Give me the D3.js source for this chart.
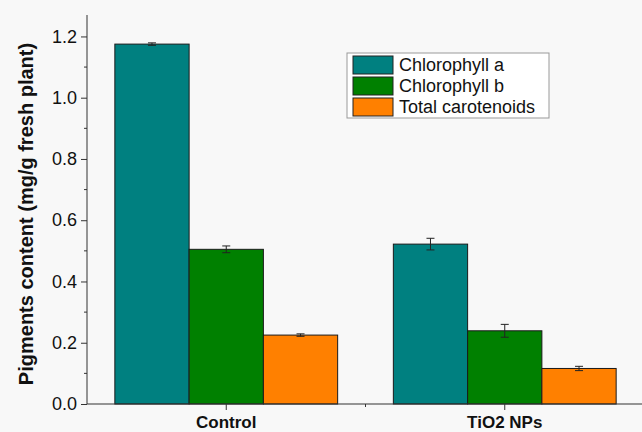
<!DOCTYPE html>
<html><head><meta charset="utf-8">
<script src="https://cdn.jsdelivr.net/npm/d3@7"></script>
<style>
html,body{margin:0;padding:0;background:#f8f8f8;}
svg{display:block;font-family:Arial,"Liberation Sans",sans-serif;}
</style></head>
<body>
<svg id="c" width="642" height="432"></svg>
<script>
const categories = ["Control", "TiO2 NPs"];
const seriesNames = ["Chlorophyll a", "Chlorophyll b", "Total carotenoids"];
const chlA = [1.175, 0.522];
const chlAErr = [0.004, 0.019];
const chlB = [0.505, 0.239];
const chlBErr = [0.011, 0.021];
const carot = [0.225, 0.116];
const carotErr = [0.004, 0.007];
const yTicks = [0, 0.2, 0.4, 0.6, 0.8, 1.0, 1.2];
const colors = ["#008080", "#008000", "#ff8000"];

const values = [chlA, chlB, carot];
const errs = [chlAErr, chlBErr, carotErr];

const svg = d3.select("#c");
const mLeft = 87, mBottom = 404, mTop = 15, mRight = 644;

const x = d3.scaleBand().domain(categories).range([mLeft, mRight]).padding(0);
const inner = d3.scaleBand().domain(seriesNames).range([0, x.bandwidth() * 0.8]).padding(0);
const y = d3.scaleLinear().domain([0, 1.27]).range([mBottom, mTop]);

// bars
const data = [];
categories.forEach((c, i) => seriesNames.forEach((s, j) => data.push({c, s, j, v: values[j][i], e: errs[j][i]})));
const off = x.bandwidth() * 0.1;
svg.append("g").selectAll("rect").data(data).join("rect")
  .attr("x", d => x(d.c) + off + inner(d.s))
  .attr("y", d => y(d.v))
  .attr("width", inner.bandwidth())
  .attr("height", d => y(0) - y(d.v))
  .attr("fill", d => colors[d.j])
  .attr("stroke", "#1a1a1a").attr("stroke-width", 1);

// error bars
const eg = svg.append("g").attr("stroke", "#222").attr("stroke-width", 1);
data.forEach(d => {
  const cx = x(d.c) + off + inner(d.s) + inner.bandwidth() / 2;
  eg.append("line").attr("x1", cx).attr("x2", cx).attr("y1", y(d.v + d.e)).attr("y2", y(d.v - d.e));
  [d.v + d.e, d.v - d.e].forEach(v => eg.append("line").attr("x1", cx - 4).attr("x2", cx + 4).attr("y1", y(v)).attr("y2", y(v)));
});

// y axis
const yAxis = d3.axisLeft(y).tickValues(yTicks).tickFormat(d3.format(".1f")).tickSize(6).tickPadding(4);
const gy = svg.append("g").attr("transform", `translate(${mLeft},0)`).call(yAxis);
gy.select(".domain").attr("d", `M0,${mBottom}V${mTop}`).attr("stroke", "#333");
gy.selectAll(".tick line").attr("stroke", "#333");
gy.selectAll("text").attr("font-size", 18).attr("fill", "#111").attr("font-family", "Arial, 'Liberation Sans', sans-serif");
// minor y ticks
const minor = d3.range(0.1, 1.25, 0.2);
svg.append("g").selectAll("line").data(minor).join("line")
  .attr("x1", mLeft - 3).attr("x2", mLeft).attr("y1", d => y(d)).attr("y2", d => y(d)).attr("stroke", "#333");

// x axis
const xAxis = d3.axisBottom(x).tickSize(6).tickPadding(6);
const gx = svg.append("g").attr("transform", `translate(0,${mBottom})`).call(xAxis);
gx.select(".domain").attr("d", `M${mLeft},0H642`).attr("stroke", "#333");
gx.selectAll(".tick line").attr("stroke", "#333");
gx.selectAll("text").attr("font-size", 17).attr("font-weight", "bold").attr("fill", "#111").attr("font-family", "Arial, 'Liberation Sans', sans-serif");
svg.append("line").attr("x1", x(categories[1])).attr("x2", x(categories[1]))
  .attr("y1", mBottom).attr("y2", mBottom + 3).attr("stroke", "#333");

// y label
svg.append("text").attr("transform", `translate(33,214) rotate(-90)`)
  .attr("text-anchor", "middle").attr("font-size", 20).attr("font-weight", "bold").attr("fill", "#111")
  .text("Pigments content (mg/g fresh plant)");

// legend
const lg = svg.append("g").attr("transform", "translate(347,53)");
lg.append("rect").attr("x", 0).attr("y", 0).attr("width", 202).attr("height", 65)
  .attr("fill", "#fff").attr("stroke", "#999").attr("stroke-width", 1);
seriesNames.forEach((s, j) => {
  lg.append("rect").attr("x", 6).attr("y", 3 + j * 21).attr("width", 40).attr("height", 18)
    .attr("fill", colors[j]).attr("stroke", "#222");
  lg.append("text").attr("x", 52).attr("y", 18 + j * 21).attr("font-size", 18).attr("fill", "#111").text(s);
});
</script>
</body></html>
